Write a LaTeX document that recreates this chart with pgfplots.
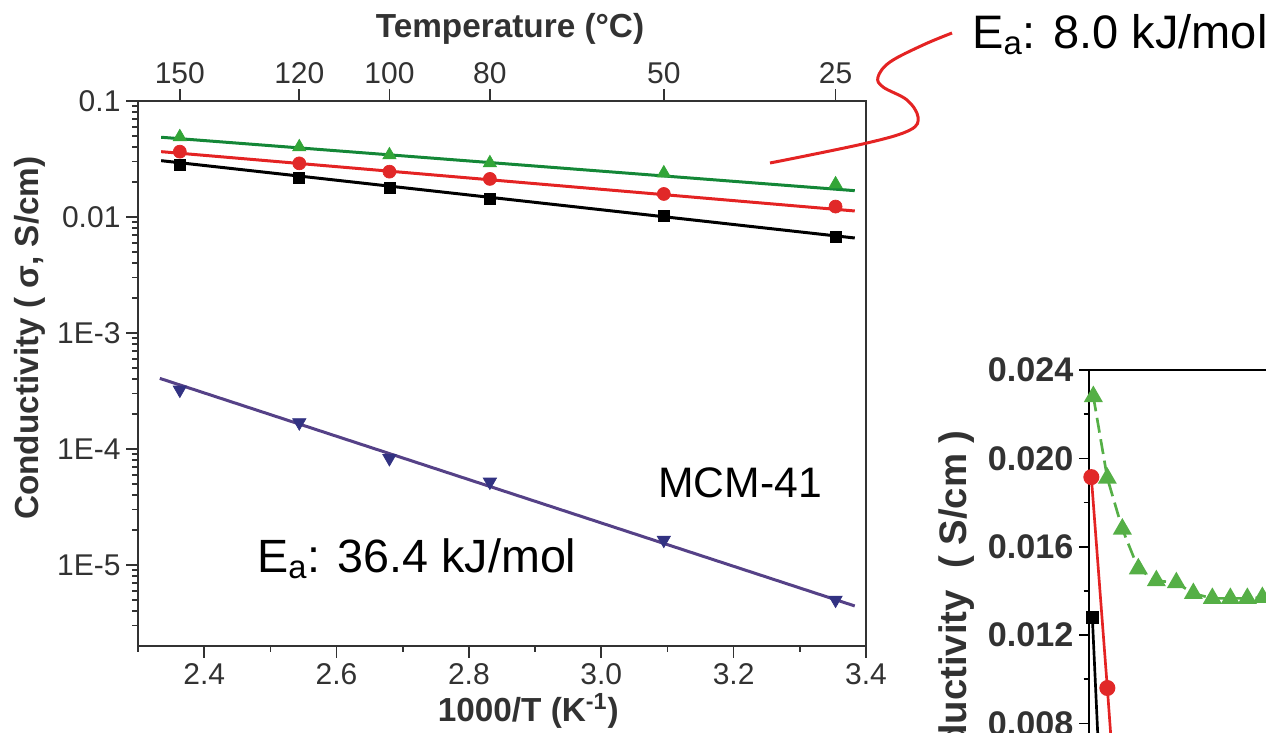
\documentclass[border=0pt]{standalone}
\usepackage{fontspec}
\setmainfont{Liberation Sans}
\usepackage{pgfplots}
\pgfplotsset{compat=1.18}
\definecolor{cgreen}{RGB}{20,135,55}
\definecolor{cgreenm}{RGB}{50,165,55}
\definecolor{cred}{RGB}{228,35,35}
\definecolor{credm}{RGB}{225,40,40}
\definecolor{cpurple}{RGB}{85,65,135}
\definecolor{cnavy}{RGB}{50,50,130}
\definecolor{tgray}{RGB}{50,50,50}
\definecolor{igreen}{RGB}{85,175,70}
\begin{document}
\begin{tikzpicture}
\useasboundingbox (0,0) rectangle (759.6pt,-439.2pt);
\clip (0,0) rectangle (759.6pt,-439.2pt);

% ---------- main axis ----------
\begin{axis}[
  at={(82.8pt,-60.6pt)}, anchor=north west,
  scale only axis, width=436.8pt, height=327pt,
  xmin=2.3, xmax=3.4, ymin=2e-6, ymax=0.1, ymode=log,
  axis line style={tgray, line width=1.2pt},
  tick align=outside, tick pos=left,
  major tick length=7pt, minor tick length=3.5pt,
  every tick/.style={tgray, line width=1pt},
  xtick={2.4,2.6,2.8,3.0,3.2,3.4},
  xticklabels={2.4,2.6,2.8,3.0,3.2,3.4},
  minor xtick={2.3,2.5,2.7,2.9,3.1,3.3},
  ytick={1e-5,1e-4,1e-3,1e-2,1e-1},
  yticklabels={1E-5,1E-4,1E-3,0.01,0.1},
  minor ytick={3e-6,4e-6,5e-6,6e-6,7e-6,8e-6,9e-6,
    2e-5,3e-5,4e-5,5e-5,6e-5,7e-5,8e-5,9e-5,
    2e-4,3e-4,4e-4,5e-4,6e-4,7e-4,8e-4,9e-4,
    2e-3,3e-3,4e-3,5e-3,6e-3,7e-3,8e-3,9e-3,
    2e-2,3e-2,4e-2,5e-2,6e-2,7e-2,8e-2,9e-2},
  tick label style={font=\fontsize{18}{18}\selectfont, text=tgray},
  xlabel={1000/T (K\textsuperscript{-1})},
  ylabel={Conductivity ( σ, S/cm)},
  every axis x label/.style={at={(axis description cs:0.536,-0.1394)}, anchor=base,
     font=\bfseries\fontsize{20}{20}\selectfont, text=tgray},
  every axis y label/.style={at={(axis description cs:-0.137,0.565)}, anchor=base, rotate=90,
     font=\bfseries\fontsize{20}{20}\selectfont, text=tgray},
  clip=false,
]
% markers
\addplot[only marks, mark=triangle*, mark size=4.6pt, mark options={fill=cgreenm, draw=cgreenm}] coordinates {
 (2.3632,0.0490) (2.5437,0.0401) (2.6799,0.0342) (2.8317,0.0292) (3.0945,0.0239) (3.3540,0.0192)};
\addplot[only marks, mark=*, mark size=3.9pt, mark options={fill=credm, draw=credm}] coordinates {
 (2.3632,0.0366) (2.5437,0.0290) (2.6799,0.0246) (2.8317,0.0213) (3.0945,0.0158) (3.3540,0.0123)};
\addplot[only marks, mark=square*, mark size=3.3pt, mark options={fill=black, draw=black}] coordinates {
 (2.3632,0.0281) (2.5437,0.0216) (2.6799,0.0177) (2.8317,0.0143) (3.0945,0.0102) (3.3540,0.00668)};
\addplot[only marks, mark=triangle*, mark size=4.6pt, mark options={fill=cnavy, draw=cnavy, rotate=180}] coordinates {
 (2.3632,3.23e-4) (2.5437,1.69e-4) (2.6799,8.3e-5) (2.8317,5.2e-5) (3.0945,1.64e-5) (3.3540,4.99e-6)};
% fitted lines
\addplot[cgreen, line width=1.8pt] coordinates {(2.335,0.0487) (3.383,0.01687)};
\addplot[cred, line width=1.8pt] coordinates {(2.335,0.0366) (3.383,0.01127)};
\addplot[black, line width=1.8pt] coordinates {(2.335,0.0306) (3.383,0.00659)};
\addplot[cpurple, line width=1.8pt] coordinates {(2.333,4.06e-4) (3.383,4.43e-6)};
\end{axis}

% ---------- top temperature axis ----------
\begin{axis}[
  at={(82.8pt,-60.6pt)}, anchor=north west,
  scale only axis, width=436.8pt, height=327pt,
  xmin=2.3, xmax=3.4, ymin=0, ymax=1,
  axis x line*=top, axis y line=none,
  axis line style={tgray, line width=1.2pt},
  tick align=outside, major tick length=7pt,
  every tick/.style={tgray, line width=1pt},
  xtick={2.3632,2.5437,2.6799,2.8317,3.0945,3.3540},
  xticklabels={150,120,100,80,50,25},
  tick label style={font=\fontsize{18}{18}\selectfont, text=tgray},
  xlabel={Temperature (°C)},
  every axis x label/.style={at={(axis description cs:0.511,1.1174)}, anchor=base,
     font=\bfseries\fontsize{20}{20}\selectfont, text=tgray},
]
\end{axis}

% ---------- inset (cropped second panel) ----------
\begin{axis}[
  at={(653.6pt,-222pt)}, anchor=north west,
  scale only axis, width=300pt, height=265pt,
  xmin=0, xmax=500, ymin=0.004, ymax=0.024,
  axis line style={black, line width=1.2pt},
  tick align=outside, tick pos=left,
  major tick length=6pt, minor tick length=3.5pt,
  every tick/.style={black, line width=1pt},
  xtick=\empty,
  scaled y ticks=false,
  ytick={0.008,0.012,0.016,0.020,0.024},
  yticklabels={0.008,0.012,0.016,0.020,0.024},
  minor ytick={0.006,0.010,0.014,0.018,0.022},
  yticklabel style={font=\bfseries\fontsize{20.5}{20.5}\selectfont, text=tgray},
]
\addplot[igreen, line width=1.6pt, dashed, dash pattern=on 9pt off 4pt, mark=triangle*, mark size=5pt, mark options={solid, fill=igreen, draw=igreen}] coordinates {
 (4,0.0228) (18,0.0191) (33,0.0168) (49,0.0150) (67,0.01446) (87,0.01437) (104,0.01388) (123,0.01366) (141,0.01366) (158,0.01366) (173,0.01370) (190,0.0137) (208,0.0137)};
\addplot[cred, line width=1.6pt, mark=*, mark size=4pt, mark options={fill=credm, draw=credm}] coordinates {
 (2,0.01915) (18,0.0096) (27,0.0040)};
\addplot[black, line width=1.6pt, mark=square*, mark size=3pt, mark options={fill=black}] coordinates {
 (3,0.0128) (12,0.0040)};
\end{axis}

% ---------- annotations ----------
\begin{scope}[x=0.6pt,y=-0.6pt]
\draw[cred, line width=1.8pt] plot[smooth, tension=0.6] coordinates {(770,163) (867,143) (910,130) (918,117) (907,100) (883,87) (878,77) (890,62) (923,45) (952,33)};
\node[anchor=base west, inner sep=0, font=\fontsize{28.2}{28.2}\selectfont] at (972,48) {E\textsubscript{a}: 8.0 kJ/mol};
\node[anchor=base west, inner sep=0, font=\fontsize{28}{28}\selectfont] at (257,572) {E\textsubscript{a}: 36.4 kJ/mol};
\node[anchor=base west, inner sep=0, font=\fontsize{25.6}{25.6}\selectfont] at (658,497) {MCM-41};
\node[anchor=base east, inner sep=0, rotate=90, font=\bfseries\fontsize{23}{23}\selectfont, text=tgray] at (966,430) {Conductivity\ \ ( S/cm )};
\end{scope}
\end{tikzpicture}
\end{document}
